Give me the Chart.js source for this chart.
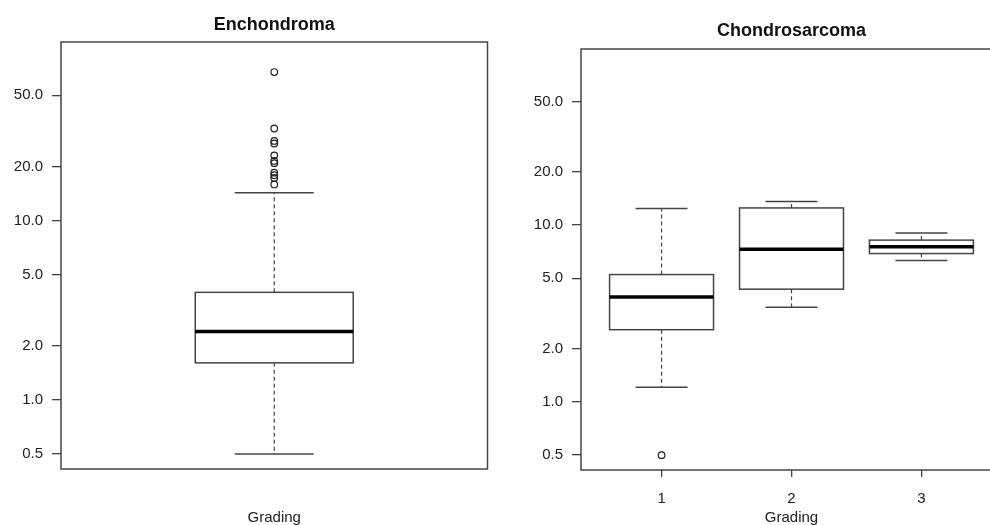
<!DOCTYPE html>
<html>
<head>
<meta charset="utf-8">
<script src="https://cdn.jsdelivr.net/npm/chart.js@4"></script>
<style>
  html,body{margin:0;padding:0;background:#fff;overflow:hidden;width:990px;height:525px}
  canvas{position:absolute;top:0}
  #left{left:0}
  #right{left:490px}
</style>
</head>
<body>
<canvas id="left" width="492" height="525"></canvas>
<canvas id="right" width="530" height="525"></canvas>
<script>
// y axis ticks (log scale)
const yTicks = [0.5, 1, 2, 5, 10, 20, 50];

// Enchondroma: one box
const enchLow = 0.5, enchQ1 = 1.61, enchMedian = 2.41, enchQ3 = 3.98, enchHigh = 14.3;
const enchOutliers = [15.9, 17.3, 17.9, 18.5, 20.9, 21.5, 23.1, 26.9, 27.8, 32.6, 67.3];

// Chondrosarcoma: grading 1..3
const grades = [1, 2, 3];
const chonLow = [1.21, 3.43, 6.30];
const chonQ1 = [2.56, 4.34, 6.90];
const chonMedian = [3.92, 7.31, 7.53];
const chonQ3 = [5.25, 12.5, 8.22];
const chonHigh = [12.4, 13.6, 9.01];
const chonOutGrade = [1];
const chonOutValue = [0.5];

const FONT = "'Liberation Sans', Arial, sans-serif";
const INK = '#222';
const LINE = '#444';

// draws the boxes, whiskers and medians using the chart scales
const boxPlugin = {
  id: 'boxes',
  beforeDatasetsDraw(chart, args, o) {
    const {ctx, scales: {x, y}} = chart;
    o.items.forEach(b => {
      const cx = x.getPixelForValue(b.x);
      const xl = x.getPixelForValue(b.x - o.half), xr = x.getPixelForValue(b.x + o.half);
      const cl = x.getPixelForValue(b.x - o.half / 2), cr = x.getPixelForValue(b.x + o.half / 2);
      const yLo = y.getPixelForValue(b.lo), yQ1 = y.getPixelForValue(b.q1);
      const yMed = y.getPixelForValue(b.med), yQ3 = y.getPixelForValue(b.q3);
      const yHi = y.getPixelForValue(b.hi);
      ctx.save();
      // whiskers (dashed)
      ctx.strokeStyle = LINE; ctx.lineWidth = 1.2; ctx.setLineDash([4, 3]);
      ctx.beginPath();
      ctx.moveTo(cx, yQ1); ctx.lineTo(cx, yLo);
      ctx.moveTo(cx, yQ3); ctx.lineTo(cx, yHi);
      ctx.stroke();
      ctx.setLineDash([]);
      // caps
      ctx.lineWidth = 1.5;
      ctx.beginPath();
      ctx.moveTo(cl, yLo); ctx.lineTo(cr, yLo);
      ctx.moveTo(cl, yHi); ctx.lineTo(cr, yHi);
      ctx.stroke();
      // box
      ctx.fillStyle = '#fff';
      ctx.fillRect(xl, yQ3, xr - xl, yQ1 - yQ3);
      ctx.strokeRect(xl, yQ3, xr - xl, yQ1 - yQ3);
      // median
      ctx.strokeStyle = '#000'; ctx.lineWidth = 3.5;
      ctx.beginPath(); ctx.moveTo(xl, yMed); ctx.lineTo(xr, yMed); ctx.stroke();
      ctx.restore();
    });
  }
};

// frame around plot region + main title
const framePlugin = {
  id: 'frame',
  afterDraw(chart, args, o) {
    const {ctx, chartArea: a} = chart;
    ctx.save();
    ctx.strokeStyle = LINE; ctx.lineWidth = 1.5;
    ctx.strokeRect(a.left, a.top, a.right - a.left, a.bottom - a.top);
    ctx.fillStyle = '#111';
    ctx.font = 'bold 18px ' + FONT;
    ctx.textAlign = 'center'; ctx.textBaseline = 'middle';
    ctx.fillText(o.title, (a.left + a.right) / 2, a.top - o.titleGap);
    ctx.restore();
  }
};

function yScale(width) {
  return {
    type: 'logarithmic', min: 0.412, max: 99,
    afterBuildTicks: s => { s.ticks = yTicks.map(v => ({value: v})); },
    afterFit: s => { s.width = width; },
    border: {display: false},
    grid: {drawOnChartArea: false, drawTicks: true, tickLength: 9, color: LINE, lineWidth: 1.3},
    ticks: {color: INK, padding: 9, font: {family: FONT, size: 15}, callback: v => Number(v).toFixed(1)}
  };
}

function outlierSet(xs, ys) {
  return {
    type: 'scatter',
    data: ys.map((v, i) => ({x: xs[i], y: v})),
    pointRadius: 3.3, pointBorderWidth: 1.2, borderColor: INK,
    backgroundColor: 'rgba(0,0,0,0)', pointHoverRadius: 3.3
  };
}

Chart.defaults.font.family = FONT;

new Chart(document.getElementById('left'), {
  type: 'scatter',
  data: {datasets: [outlierSet(enchOutliers.map(() => 1), enchOutliers)]},
  plugins: [boxPlugin, framePlugin],
  options: {
    responsive: false, animation: false,
    layout: {padding: {top: 42, right: 4, left: 0, bottom: 0}},
    plugins: {
      legend: {display: false}, tooltip: {enabled: false},
      boxes: {half: 0.2, items: [{x: 1, lo: enchLow, q1: enchQ1, med: enchMedian, q3: enchQ3, hi: enchHigh}]},
      frame: {title: 'Enchondroma', titleGap: 17}
    },
    scales: {
      x: {
        type: 'linear', min: 0.46, max: 1.54,
        afterFit: s => { s.height = 56; },
        border: {display: false}, grid: {display: false},
        ticks: {display: false},
        title: {display: true, text: 'Grading', color: INK, font: {family: FONT, size: 15, lineHeight: 1}, padding: {top: 0, bottom: 0}}
      },
      y: yScale(61)
    }
  }
});

new Chart(document.getElementById('right'), {
  type: 'scatter',
  data: {datasets: [outlierSet(chonOutGrade, chonOutValue)]},
  plugins: [boxPlugin, framePlugin],
  options: {
    responsive: false, animation: false,
    layout: {padding: {top: 49, right: 18, left: 0, bottom: 0}},
    plugins: {
      legend: {display: false}, tooltip: {enabled: false},
      boxes: {half: 0.4, items: grades.map((g, i) => ({x: g, lo: chonLow[i], q1: chonQ1[i], med: chonMedian[i], q3: chonQ3[i], hi: chonHigh[i]}))},
      frame: {title: 'Chondrosarcoma', titleGap: 18}
    },
    scales: {
      x: {
        type: 'linear', min: 0.38, max: 3.62,
        afterBuildTicks: s => { s.ticks = grades.map(v => ({value: v})); },
        afterFit: s => { s.height = 55; },
        border: {display: false},
        grid: {drawOnChartArea: false, drawTicks: true, tickLength: 7, color: LINE, lineWidth: 1.3},
        ticks: {color: INK, padding: 13, font: {family: FONT, size: 15}, callback: v => String(v)},
        title: {display: true, text: 'Grading', color: INK, font: {family: FONT, size: 15, lineHeight: 1}, padding: {top: 0, bottom: 0}}
      },
      y: yScale(91)
    }
  }
});
</script>
</body>
</html>
